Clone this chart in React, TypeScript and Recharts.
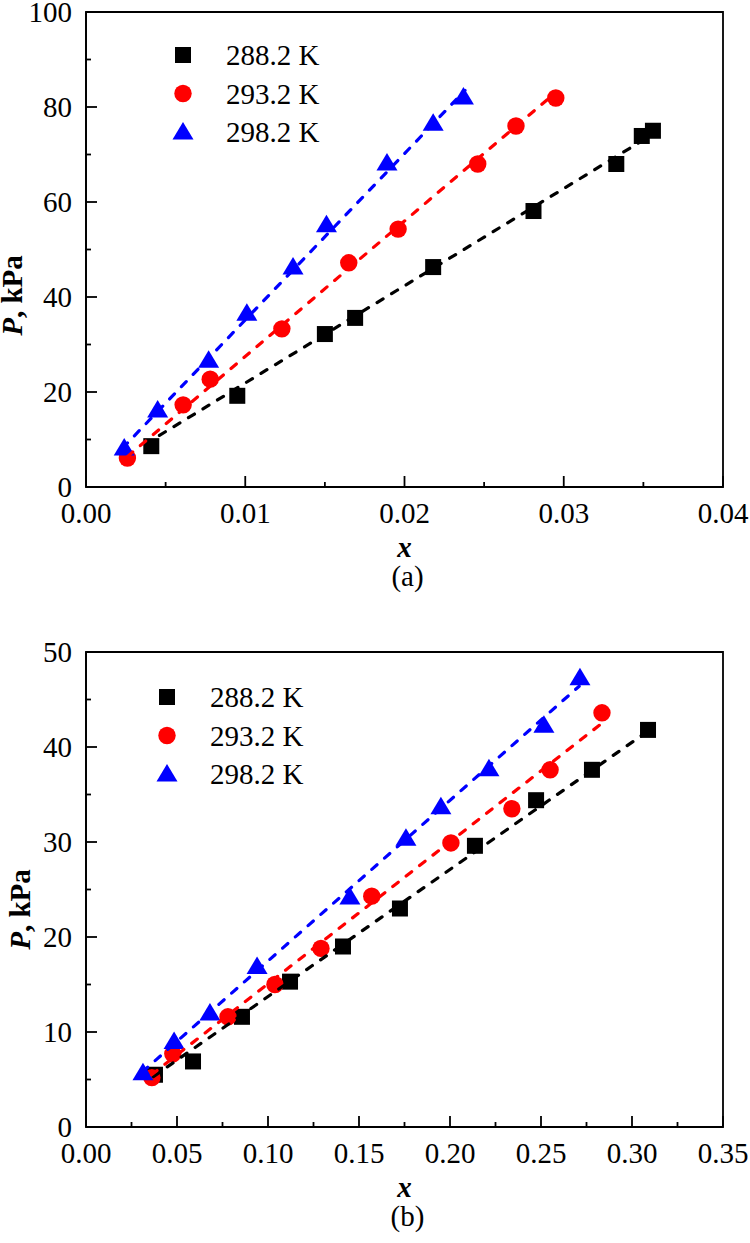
import React from 'react';
import { ScatterChart, Scatter, XAxis, YAxis, ReferenceArea, Legend } from 'recharts';

const FONT = '"Liberation Serif", "Times New Roman", serif';

// ---------- Panel (a) ----------
const aX288 = [0.0041, 0.0095, 0.015, 0.0169, 0.0218, 0.0281, 0.0333, 0.0349, 0.0356];
const aP288 = [8.6, 19.2, 32.2, 35.6, 46.3, 58.1, 68.0, 73.9, 75.0];
const aX293 = [0.0026, 0.0061, 0.0078, 0.0123, 0.0165, 0.0196, 0.0246, 0.027, 0.0295];
const aP293 = [6.1, 17.3, 22.7, 33.3, 47.2, 54.3, 68.0, 76.0, 81.9];
const aX298 = [0.0024, 0.0045, 0.0077, 0.0101, 0.013, 0.0151, 0.0189, 0.0218, 0.0237];
const aP298 = [8.2, 16.2, 26.7, 36.6, 46.3, 55.2, 68.2, 76.6, 82.1];
// fitted dashed lines (end points)
const aFitX288 = [0.0037, 0.0357];
const aFitP288 = [9.0, 74.5];
const aFitX293 = [0.0026, 0.0293];
const aFitP293 = [6.4, 82.5];
const aFitX298 = [0.0023, 0.0238];
const aFitP298 = [8.2, 83.5];
const aXTicks = [0, 0.005, 0.01, 0.015, 0.02, 0.025, 0.03, 0.035, 0.04];
const aYTicks = [0, 10, 20, 30, 40, 50, 60, 70, 80, 90, 100];

// ---------- Panel (b) ----------
const bX288 = [0.0379, 0.0588, 0.0857, 0.1121, 0.1412, 0.1725, 0.2137, 0.2473, 0.278, 0.3088];
const bP288 = [5.5, 6.9, 11.6, 15.3, 19.0, 23.0, 29.6, 34.4, 37.6, 41.8];
const bX293 = [0.0362, 0.0477, 0.078, 0.1038, 0.1291, 0.157, 0.2005, 0.234, 0.255, 0.2835];
const bP293 = [5.2, 7.7, 11.6, 15.0, 18.8, 24.3, 29.9, 33.5, 37.6, 43.6];
const bX298 = [0.0313, 0.0484, 0.0681, 0.094, 0.145, 0.1758, 0.195, 0.2214, 0.2516, 0.2714];
const bP298 = [5.7, 9.0, 12.0, 16.9, 24.2, 30.4, 33.7, 37.7, 42.3, 47.3];
const bFitX288 = [0.037, 0.309];
const bFitP288 = [5.3, 41.7];
const bFitX293 = [0.036, 0.2835];
const bFitP293 = [5.5, 42.5];
const bFitX298 = [0.031, 0.271];
const bFitP298 = [5.8, 46.4];
const bXTicks = [0, 0.025, 0.05, 0.075, 0.1, 0.125, 0.15, 0.175, 0.2, 0.225, 0.25, 0.275, 0.3, 0.325, 0.35];
const bYTicks = [0, 5, 10, 15, 20, 25, 30, 35, 40, 45, 50];

const seriesNames = ['288.2 K', '293.2 K', '298.2 K'];
const seriesColors = ['#000000', '#ff0000', '#0000ff'];
const seriesShapes = ['square', 'circle', 'triangle'];

const zip = (xs: number[], ps: number[]) => xs.map((x, i) => ({ x, P: ps[i] }));

const Marker = ({ kind, cx, cy, color }: any) => {
  if (cx == null || cy == null) return <g />;
  if (kind === 'square') return <rect x={cx - 8} y={cy - 8} width={16} height={16} fill={color} />;
  if (kind === 'circle') return <circle cx={cx} cy={cy} r={8.7} fill={color} />;
  return (
    <polygon
      points={`${cx},${cy - 10} ${cx - 10.5},${cy + 7.5} ${cx + 10.5},${cy + 7.5}`}
      fill={color}
    />
  );
};

const isMajor = (v: number, step: number) => Math.abs(v / step - Math.round(v / step)) < 1e-6;

const makeXTick = (step: number, digits: number) => (props: any) => {
  const { x, y, payload } = props;
  const v = payload.value;
  const major = isMajor(v, step);
  return (
    <g>
      <line x1={x} x2={x} y1={y} y2={y - (major ? 11 : 5)} stroke="#000" strokeWidth={1.8} />
      {major && (
        <text x={x} y={y + 36} textAnchor="middle" fontFamily={FONT} fontSize={29} fill="#000">
          {v.toFixed(digits)}
        </text>
      )}
    </g>
  );
};

const makeYTick = (step: number) => (props: any) => {
  const { x, y, payload } = props;
  const v = payload.value;
  const major = isMajor(v, step);
  return (
    <g>
      <line x1={x} x2={x + (major ? 11 : 5)} y1={y} y2={y} stroke="#000" strokeWidth={1.8} />
      {major && (
        <text x={x - 14} y={y + 10} textAnchor="end" fontFamily={FONT} fontSize={29} fill="#000">
          {String(v)}
        </text>
      )}
    </g>
  );
};

const LegendBox = () => (
  <svg width={200} height={130} style={{ display: 'block', overflow: 'visible' }}>
    {seriesNames.map((name, i) => {
      const cy = 25 + i * 38.5;
      return (
        <g key={name}>
          <Marker kind={seriesShapes[i]} cx={23} cy={cy} color={seriesColors[i]} />
          <text x={66} y={cy + 10} fontFamily={FONT} fontSize={29} fill="#000">
            {name}
          </text>
        </g>
      );
    })}
  </svg>
);

type PanelProps = {
  pts: { x: number; P: number }[][];
  fits: { x: number; P: number }[][];
  xMax: number;
  yMax: number;
  xTicks: number[];
  yTicks: number[];
  xStep: number;
  yStep: number;
  height: number;
  top: number;
  legendLeft: number;
  legendTop: number;
  tag: string;
  yLabelX: number;
  yLabelShift: number;
};

const Panel = (p: PanelProps) => {
  const xLabel = (props: any) => {
    const vb = props.viewBox || {};
    const cx = vb.x + vb.width / 2;
    return (
      <g>
        <text x={cx} y={vb.y + 70} textAnchor="middle" fontFamily={FONT} fontSize={29} fontWeight="bold" fontStyle="italic" fill="#000">
          x
        </text>
        <text x={cx + 3} y={vb.y + 99} textAnchor="middle" fontFamily={FONT} fontSize={29} fill="#000">
          {p.tag}
        </text>
      </g>
    );
  };
  const yLabel = (props: any) => {
    const vb = props.viewBox || {};
    const cy = vb.y + vb.height / 2 + p.yLabelShift;
    const lx = p.yLabelX;
    return (
      <text
        x={lx}
        y={cy}
        transform={`rotate(-90, ${lx}, ${cy})`}
        textAnchor="middle"
        fontFamily={FONT}
        fontSize={29}
        fontWeight="bold"
        fill="#000"
      >
        <tspan fontStyle="italic">P</tspan>
        <tspan>, kPa</tspan>
      </text>
    );
  };
  return (
    <div style={{ position: 'absolute', left: 0, top: p.top, width: 750, height: p.height }}>
      <ScatterChart
        width={750}
        height={p.height}
        margin={{ top: p.height === 600 ? 12 : 52, right: 27, bottom: 0, left: 0 }}
      >
        <XAxis
          type="number"
          dataKey="x"
          domain={[0, p.xMax]}
          ticks={p.xTicks}
          interval={0}
          tickSize={0}
          tickMargin={0}
          tickLine={false}
          axisLine={{ stroke: '#000', strokeWidth: 1.8 }}
          tick={makeXTick(p.xStep, 2)}
          height={p.height === 600 ? 113 : 116}
          allowDataOverflow
          label={xLabel}
        />
        <YAxis
          type="number"
          dataKey="P"
          domain={[0, p.yMax]}
          ticks={p.yTicks}
          interval={0}
          tickSize={0}
          tickMargin={0}
          tickLine={false}
          axisLine={{ stroke: '#000', strokeWidth: 1.8 }}
          tick={makeYTick(p.yStep)}
          width={86}
          allowDataOverflow
          label={yLabel}
        />
        <ReferenceArea x1={0} x2={p.xMax} y1={0} y2={p.yMax} fill="none" stroke="#000" strokeWidth={1.8} />
        {p.pts.map((d, i) => (
          <Scatter
            key={'m' + i}
            name={seriesNames[i]}
            data={d}
            fill={seriesColors[i]}
            isAnimationActive={false}
            shape={(sp: any) => <Marker kind={seriesShapes[i]} cx={sp.cx} cy={sp.cy} color={seriesColors[i]} />}
          />
        ))}
        {p.fits.map((d, i) => (
          <Scatter
            key={'f' + i}
            name={'fit ' + seriesNames[i]}
            data={d}
            legendType="none"
            isAnimationActive={false}
            line={{ stroke: seriesColors[i], strokeWidth: 3.2, strokeDasharray: '7 10', strokeLinecap: 'round' }}
            lineType="joint"
            shape={() => <g />}
          />
        ))}
        <Legend
          layout="vertical"
          align="center"
          verticalAlign="middle"
          wrapperStyle={{ left: p.legendLeft, top: p.legendTop, width: 200, height: 130 }}
          content={() => <LegendBox />}
        />
      </ScatterChart>
    </div>
  );
};

export default function App() {
  return (
    <div style={{ position: 'absolute', left: 0, top: 0, width: 750, height: 1243, background: '#fff' }}>
      <Panel
        pts={[zip(aX288, aP288), zip(aX293, aP293), zip(aX298, aP298)]}
        fits={[zip(aFitX288, aFitP288), zip(aFitX293, aFitP293), zip(aFitX298, aFitP298)]}
        xMax={0.04}
        yMax={100}
        xTicks={aXTicks}
        yTicks={aYTicks}
        xStep={0.01}
        yStep={20}
        height={600}
        top={0}
        legendLeft={160}
        legendTop={30}
        tag="(a)"
        yLabelX={22}
        yLabelShift={46}
      />
      <Panel
        pts={[zip(bX288, bP288), zip(bX293, bP293), zip(bX298, bP298)]}
        fits={[zip(bFitX288, bFitP288), zip(bFitX293, bFitP293), zip(bFitX298, bFitP298)]}
        xMax={0.35}
        yMax={50}
        xTicks={bXTicks}
        yTicks={bYTicks}
        xStep={0.05}
        yStep={10}
        height={643}
        top={600}
        legendLeft={144}
        legendTop={72}
        tag="(b)"
        yLabelX={30}
        yLabelShift={20}
      />
    </div>
  );
}
